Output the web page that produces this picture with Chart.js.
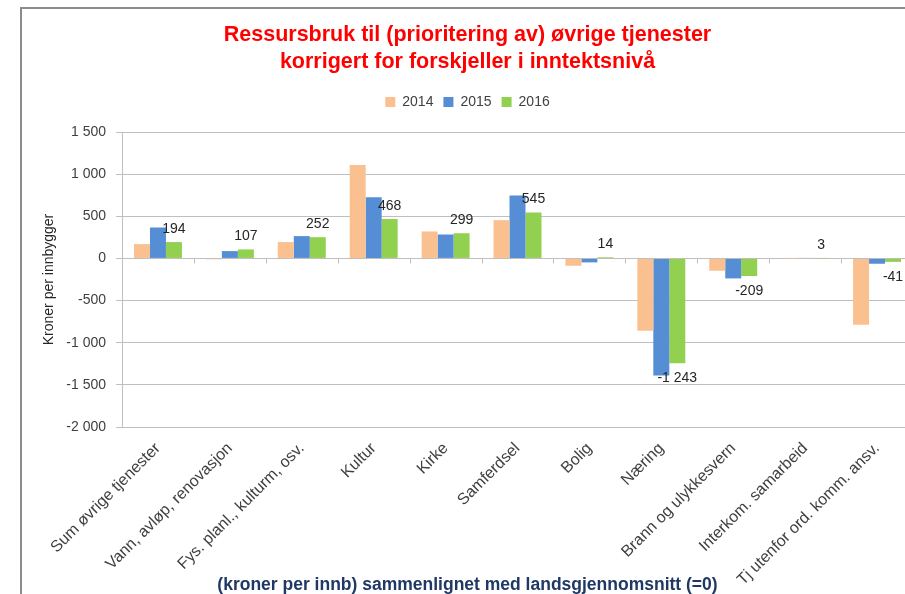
<!DOCTYPE html>
<html>
<head>
<meta charset="utf-8">
<script src="https://cdn.jsdelivr.net/npm/chart.js@4"></script>
<style>
  body { margin: 0; background: #fff; overflow: hidden; }
  #frame {
    position: absolute; left: 20px; top: 7px;
    width: 906px; height: 600px;
    border-top: 2px solid #8c8c8c; border-left: 2px solid #8c8c8c;
  }
</style>
</head>
<body>
<div id="frame"><canvas id="chart" width="906" height="600"></canvas></div>
<script>
  // data
  const categories = [
    "Sum øvrige tjenester", "Vann, avløp, renovasjon", "Fys. planl., kulturm, osv.",
    "Kultur", "Kirke", "Samferdsel", "Bolig", "Næring",
    "Brann og ulykkesvern", "Interkom. samarbeid", "Tj utenfor ord. komm. ansv."
  ];
  const years = ["2014", "2015", "2016"];
  const values2014 = [170, -10, 194, 1110, 320, 454, -87, -857, -146, 2, -786];
  const values2015 = [367, 87, 265, 727, 284, 747, -47, -1390, -237, 5, -63];
  const values2016 = [194, 107, 252, 468, 299, 545, 14, -1243, -209, 3, -41];
  const yTicks = [1500, 1000, 500, 0, -500, -1000, -1500, -2000];

  const colors = ["#FAC090", "#558ED5", "#92D050"];
  const fmt = v => {
    const s = Math.abs(v).toString().replace(/\B(?=(\d{3})+(?!\d))/g, " ");
    return (v < 0 ? "-" : "") + s;
  };

  // labels for the 2016 bars only
  const valueLabels = {
    id: "valueLabels",
    afterDatasetsDraw(chart) {
      const ctx = chart.ctx;
      const meta = chart.getDatasetMeta(2);
      ctx.save();
      ctx.font = "14px 'Liberation Sans'";
      ctx.fillStyle = "#262626";
      ctx.textAlign = "center";
      ctx.textBaseline = "middle";
      meta.data.forEach((bar, i) => {
        const v = values2016[i];
        const y = v >= 0 ? bar.y - 13 : bar.y + 15;
        ctx.fillText(fmt(v), bar.x, y);
      });
      ctx.restore();
    }
  };

  // small tick marks between categories on the zero line
  const zeroTicks = {
    id: "zeroTicks",
    beforeDatasetsDraw(chart) {
      const { ctx, scales: { x, y } } = chart;
      const y0 = y.getPixelForValue(0);
      ctx.save();
      ctx.strokeStyle = "#bfbfbf";
      ctx.lineWidth = 1;
      ctx.beginPath();
      for (let i = 1; i <= categories.length; i++) {
        const px = Math.round(x.getPixelForValue(i - 0.5)) + 0.5;
        ctx.moveTo(px, y0);
        ctx.lineTo(px, y0 + 5);
      }
      ctx.stroke();
      ctx.restore();
    }
  };

  // extra room under the legend
  const legendGap = {
    id: "legendGap",
    beforeInit(chart) {
      const fit = chart.legend.fit;
      chart.legend.fit = function () {
        fit.bind(chart.legend)();
        this.height += 13;
      };
    }
  };

  new Chart(document.getElementById("chart"), {
    type: "bar",
    data: {
      labels: categories,
      datasets: [
        { label: years[0], data: values2014, backgroundColor: colors[0] },
        { label: years[1], data: values2015, backgroundColor: colors[1] },
        { label: years[2], data: values2016, backgroundColor: colors[2] }
      ]
    },
    options: {
      responsive: false,
      animation: false,
      categoryPercentage: 0.667,
      barPercentage: 1.0,
      layout: { padding: { left: 0, right: 15, top: 0, bottom: 8 } },
      plugins: {
        title: {
          display: true,
          text: ["Ressursbruk til (prioritering av) øvrige tjenester", "korrigert for forskjeller i inntektsnivå"],
          color: "#ff0000",
          font: { family: "'Liberation Sans'", size: 21.5, weight: "bold", lineHeight: 1.256 },
          padding: { top: 13, bottom: 9 }
        },
        subtitle: {
          display: true,
          position: "bottom",
          text: "(kroner per innb) sammenlignet med landsgjennomsnitt (=0)",
          color: "#1F3864",
          font: { family: "'Liberation Sans'", size: 17.5, weight: "bold" },
          padding: { top: -26, bottom: 0 }
        },
        legend: {
          position: "top",
          labels: {
            boxWidth: 10, boxHeight: 10, padding: 10,
            color: "#404040",
            font: { family: "'Liberation Sans'", size: 14 }
          }
        },
        tooltip: { enabled: false }
      },
      scales: {
        x: {
          afterFit: s => { s.height = 174; },
          grid: { display: false },
          border: { display: false },
          ticks: {
            minRotation: 45, maxRotation: 45,
            color: "#404040",
            font: { family: "'Liberation Sans'", size: 16 },
            padding: 4
          }
        },
        y: {
          min: -2000, max: 1500,
          afterBuildTicks: s => { s.ticks = yTicks.map(v => ({ value: v })); },
          afterFit: s => { s.width = 100; },
          grid: { color: "#bfbfbf", tickLength: 6 },
          border: { color: "#bfbfbf" },
          ticks: {
            color: "#404040",
            font: { family: "'Liberation Sans'", size: 14 },
            padding: 10,
            callback: v => fmt(v)
          },
          title: {
            display: true,
            text: "Kroner per innbygger",
            color: "#262626",
            font: { family: "'Liberation Sans'", size: 14 },
            padding: { top: 19, bottom: 0 }
          }
        }
      }
    },
    plugins: [valueLabels, zeroTicks, legendGap]
  });
</script>
</body>
</html>
